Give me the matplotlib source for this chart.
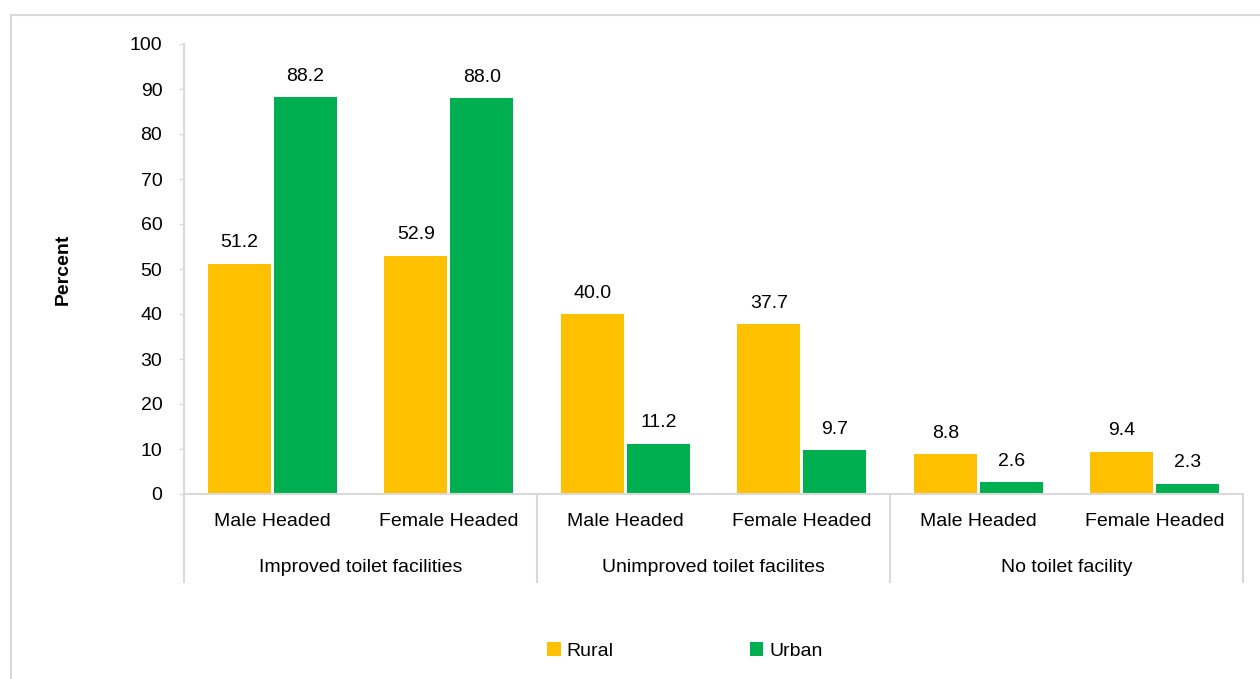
# Toilet facility type by sex of household head, rural vs urban (grouped bar chart)

import matplotlib.pyplot as plt
import matplotlib.transforms as mtransforms
from matplotlib.patches import Rectangle
import numpy as np

plt.rcParams['font.family'] = ['Liberation Sans', 'DejaVu Sans']

# Data
GROUPS = ["Improved toilet facilities", "Unimproved toilet facilites", "No toilet facility"]
SUBCATS = ["Male Headed", "Female Headed"]
RURAL = [51.2, 52.9, 40.0, 37.7, 8.8, 9.4]
URBAN = [88.2, 88.0, 11.2, 9.7, 2.6, 2.3]
Y_TICKS = [0, 10, 20, 30, 40, 50, 60, 70, 80, 90, 100]

RURAL_COLOR = "#FFC000"
URBAN_COLOR = "#00B050"
GRID_GRAY = "#d9d9d9"
FS = 14


def main():
    fig = plt.figure(figsize=(12.6, 6.79), dpi=100)
    W, H = 1260, 679

    # outer chart border (clipped on right/bottom like the original)
    fig.patches.append(Rectangle((11 / W, -0.05), 1.1, 1 - 15 / H + 0.05,
                                 transform=fig.transFigure, fill=False,
                                 edgecolor=GRID_GRAY, linewidth=1.5))

    ax = fig.add_axes([184 / W, 1 - 494 / H, (1243 - 184) / W, 450 / H])

    n = len(RURAL)
    x = np.arange(n) + 0.5
    bw = 0.357
    off = 0.187

    ax.bar(x - off, RURAL, bw, color=RURAL_COLOR, label="Rural")
    ax.bar(x + off, URBAN, bw, color=URBAN_COLOR, label="Urban")

    for xi, v in zip(x - off, RURAL):
        ax.annotate(f"{v:.1f}", (xi, v), xytext=(0, 9), textcoords="offset points",
                    ha="center", va="bottom", fontsize=FS)
    for xi, v in zip(x + off, URBAN):
        ax.annotate(f"{v:.1f}", (xi, v), xytext=(0, 9), textcoords="offset points",
                    ha="center", va="bottom", fontsize=FS)

    ax.set_xlim(0, n)
    ax.set_ylim(0, 100)
    ax.set_yticks(Y_TICKS)
    ax.tick_params(axis="y", length=3.6, width=1, color=GRID_GRAY, pad=12, labelsize=FS)
    ax.set_xticks([])

    for s in ["top", "right"]:
        ax.spines[s].set_visible(False)
    ax.spines["left"].set_color(GRID_GRAY)
    ax.spines["bottom"].set_color(GRID_GRAY)
    ax.spines["left"].set_linewidth(1.5)
    ax.spines["bottom"].set_linewidth(1.5)

    # multi-level category axis
    trans = mtransforms.blended_transform_factory(ax.transData, ax.transAxes)
    sep_bottom = -88 / 450
    for g in range(len(GROUPS) + 1):
        ax.plot([g * 2, g * 2], [0, sep_bottom], transform=trans, color=GRID_GRAY,
                linewidth=1.5, clip_on=False)
    for i in range(n):
        ax.text(x[i], -28 / 450, SUBCATS[i % 2], transform=trans, ha="center",
                va="center", fontsize=FS)
    for g, name in enumerate(GROUPS):
        ax.text(g * 2 + 1, -73 / 450, name, transform=trans, ha="center",
                va="center", fontsize=FS)

    ax.set_ylabel("Percent", fontsize=FS, fontweight="bold", labelpad=42)

    fig.legend(loc="center", bbox_to_anchor=(685 / W, 1 - 651 / H), ncol=2,
               frameon=False, fontsize=FS, handlelength=0.7, handleheight=0.7,
               handletextpad=0.3, columnspacing=7.0)

    fig.savefig("out.png", dpi=100)
    plt.close(fig)


if __name__ == "__main__":
    main()
